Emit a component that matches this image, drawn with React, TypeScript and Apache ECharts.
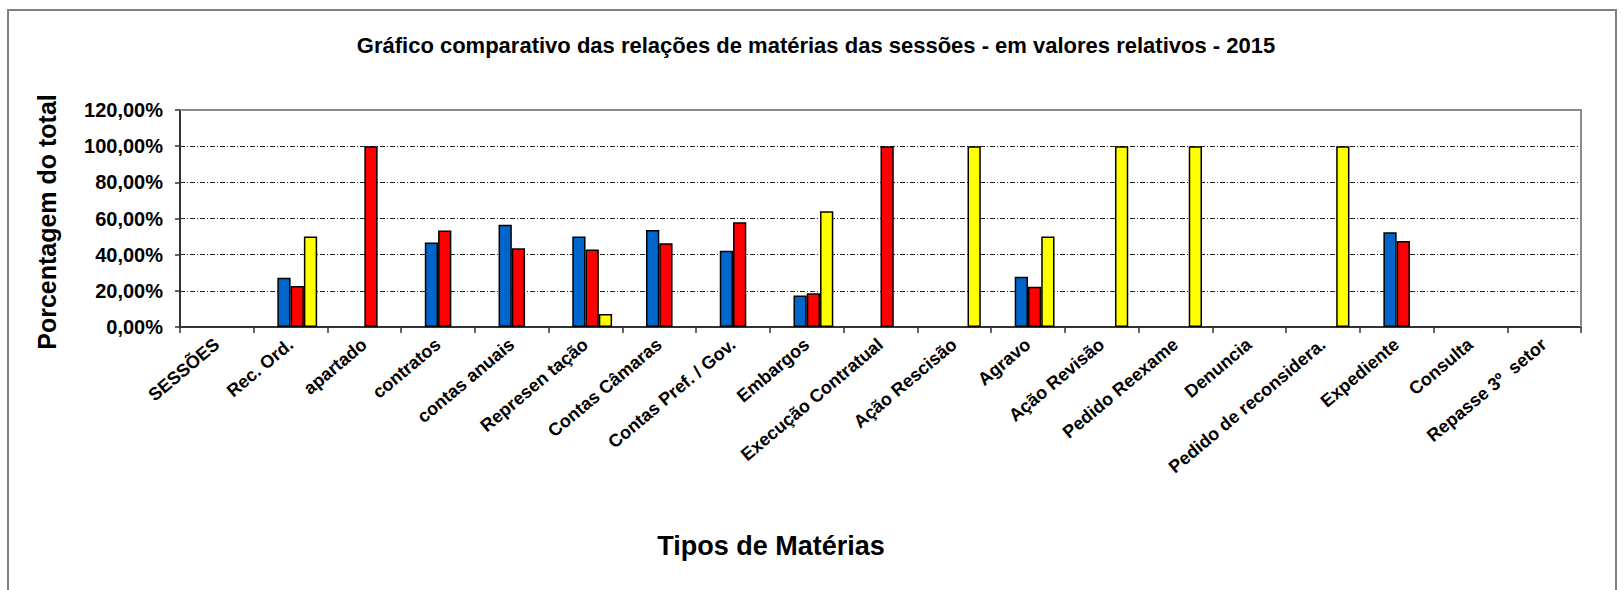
import React, { useEffect, useRef } from "react";
import * as echarts from "echarts";

const categories = [
  "SESSÕES",
  "Rec. Ord.",
  "apartado",
  "contratos",
  "contas anuais",
  "Represen tação",
  "Contas Câmaras",
  "Contas Pref. / Gov.",
  "Embargos",
  "Execução Contratual",
  "Ação Rescisão",
  "Agravo",
  "Ação Revisão",
  "Pedido Reexame",
  "Denuncia",
  "Pedido de reconsidera.",
  "Expediente",
  "Consulta",
  "Repasse 3º  setor",
];

// first (empty) series only reserves the left slot in each group
const serieVazia = [null, null, null, null, null, null, null, null, null, null, null, null, null, null, null, null, null, null, null];
const serieAzul = [null, 27.27, null, 46.67, 56.52, 50.0, 53.66, 42.11, 17.4, null, null, 27.78, null, null, null, null, 52.38, null, null];
const serieVermelha = [null, 22.73, 100, 53.33, 43.48, 42.86, 46.34, 57.89, 18.6, 100, null, 22.22, null, null, null, null, 47.62, null, null];
const serieAmarela = [null, 50.0, null, null, null, 7.14, null, null, 64.0, null, 100, 50.0, 100, 100, null, 100, null, null, null];

const yTicks = [0, 20, 40, 60, 80, 100, 120];

const titleText = "Gráfico comparativo das relações de matérias das sessões - em valores relativos - 2015";
const xName = "Tipos de Matérias";
const yName = "Porcentagem do total";

const FONT = "'Liberation Sans', Arial, sans-serif";

export default function App() {
  const ref = useRef<HTMLDivElement>(null);

  useEffect(() => {
    if (!ref.current) return;
    const chart = echarts.init(ref.current, null, { renderer: "svg" });
    const gridLeft = 180;
    const gridTop = 110;
    const gridRight = 1581;
    const gridBottom = 327;
    const barStyle = (color: string) => ({
      color,
      borderColor: "#000",
      borderWidth: 1.5,
    });
    chart.setOption({
      animation: false,
      backgroundColor: "#fff",
      textStyle: { fontFamily: FONT },
      title: {
        text: titleText,
        left: 816,
        top: 34,
        textAlign: "center",
        padding: 0,
        textStyle: { fontFamily: FONT, fontSize: 22, fontWeight: "bold", color: "#000" },
      },
      grid: {
        left: gridLeft,
        top: gridTop,
        right: 1623 - gridRight,
        bottom: 590 - gridBottom,
        containLabel: false,
      },
      xAxis: {
        type: "category",
        data: categories,
        axisLine: { show: true, lineStyle: { color: "#333", width: 2 } },
        axisTick: { show: true, length: 6, lineStyle: { color: "#333", width: 1.5 } },
        axisLabel: {
          interval: 0,
          rotate: 40,
          margin: 15,
          fontFamily: FONT,
          fontSize: 18,
          fontWeight: "bold",
          color: "#000",
        },
        splitLine: { show: false },
      },
      yAxis: {
        type: "value",
        min: yTicks[0],
        max: yTicks[yTicks.length - 1],
        interval: 20,
        axisLine: { show: true, lineStyle: { color: "#333", width: 2 } },
        axisTick: { show: true, length: 5, lineStyle: { color: "#333", width: 1.5 } },
        axisLabel: {
          margin: 17,
          fontFamily: FONT,
          fontSize: 20,
          fontWeight: "bold",
          color: "#000",
          formatter: (v: number) => v.toFixed(2).replace(".", ",") + "%",
        },
        splitLine: {
          show: true,
          lineStyle: { color: "#222", width: 1, type: [5, 2, 1, 2] },
        },
      },
      series: [
        { name: "Série 0", type: "bar", data: serieVazia, barGap: "0%", barCategoryGap: "28%", itemStyle: barStyle("#0066CC") },
        { name: "Série 1", type: "bar", data: serieAzul, barGap: "0%", barCategoryGap: "28%", itemStyle: barStyle("#0066CC") },
        { name: "Série 2", type: "bar", data: serieVermelha, barGap: "0%", barCategoryGap: "28%", itemStyle: barStyle("#FF0000") },
        { name: "Série 3", type: "bar", data: serieAmarela, barGap: "0%", barCategoryGap: "28%", itemStyle: barStyle("#FFFF00") },
      ],
      graphic: [
        {
          type: "rect",
          silent: true,
          z: -10,
          shape: { x: 8, y: 10, width: 1608, height: 600 },
          style: { fill: "none", stroke: "#808080", lineWidth: 2 },
        },
        {
          type: "polyline",
          silent: true,
          z: 100,
          shape: { points: [[gridLeft, gridTop], [gridRight, gridTop], [gridRight, gridBottom]] },
          style: { fill: "none", stroke: "#8a8a8a", lineWidth: 2 },
        },
        {
          type: "text",
          x: 771,
          y: 546,
          style: {
            text: xName,
            textAlign: "center",
            textVerticalAlign: "middle",
            font: `bold 27px ${FONT}`,
            fill: "#000",
          },
        },
        {
          type: "text",
          x: 47,
          y: 222,
          rotation: Math.PI / 2,
          style: {
            text: yName,
            textAlign: "center",
            textVerticalAlign: "middle",
            font: `bold 25px ${FONT}`,
            fill: "#000",
          },
        },
      ],
    });
    return () => chart.dispose();
  }, []);

  return (
    <div
      ref={ref}
      style={{ position: "fixed", left: 0, top: 0, width: 1623, height: 590, background: "#fff" }}
    />
  );
}
